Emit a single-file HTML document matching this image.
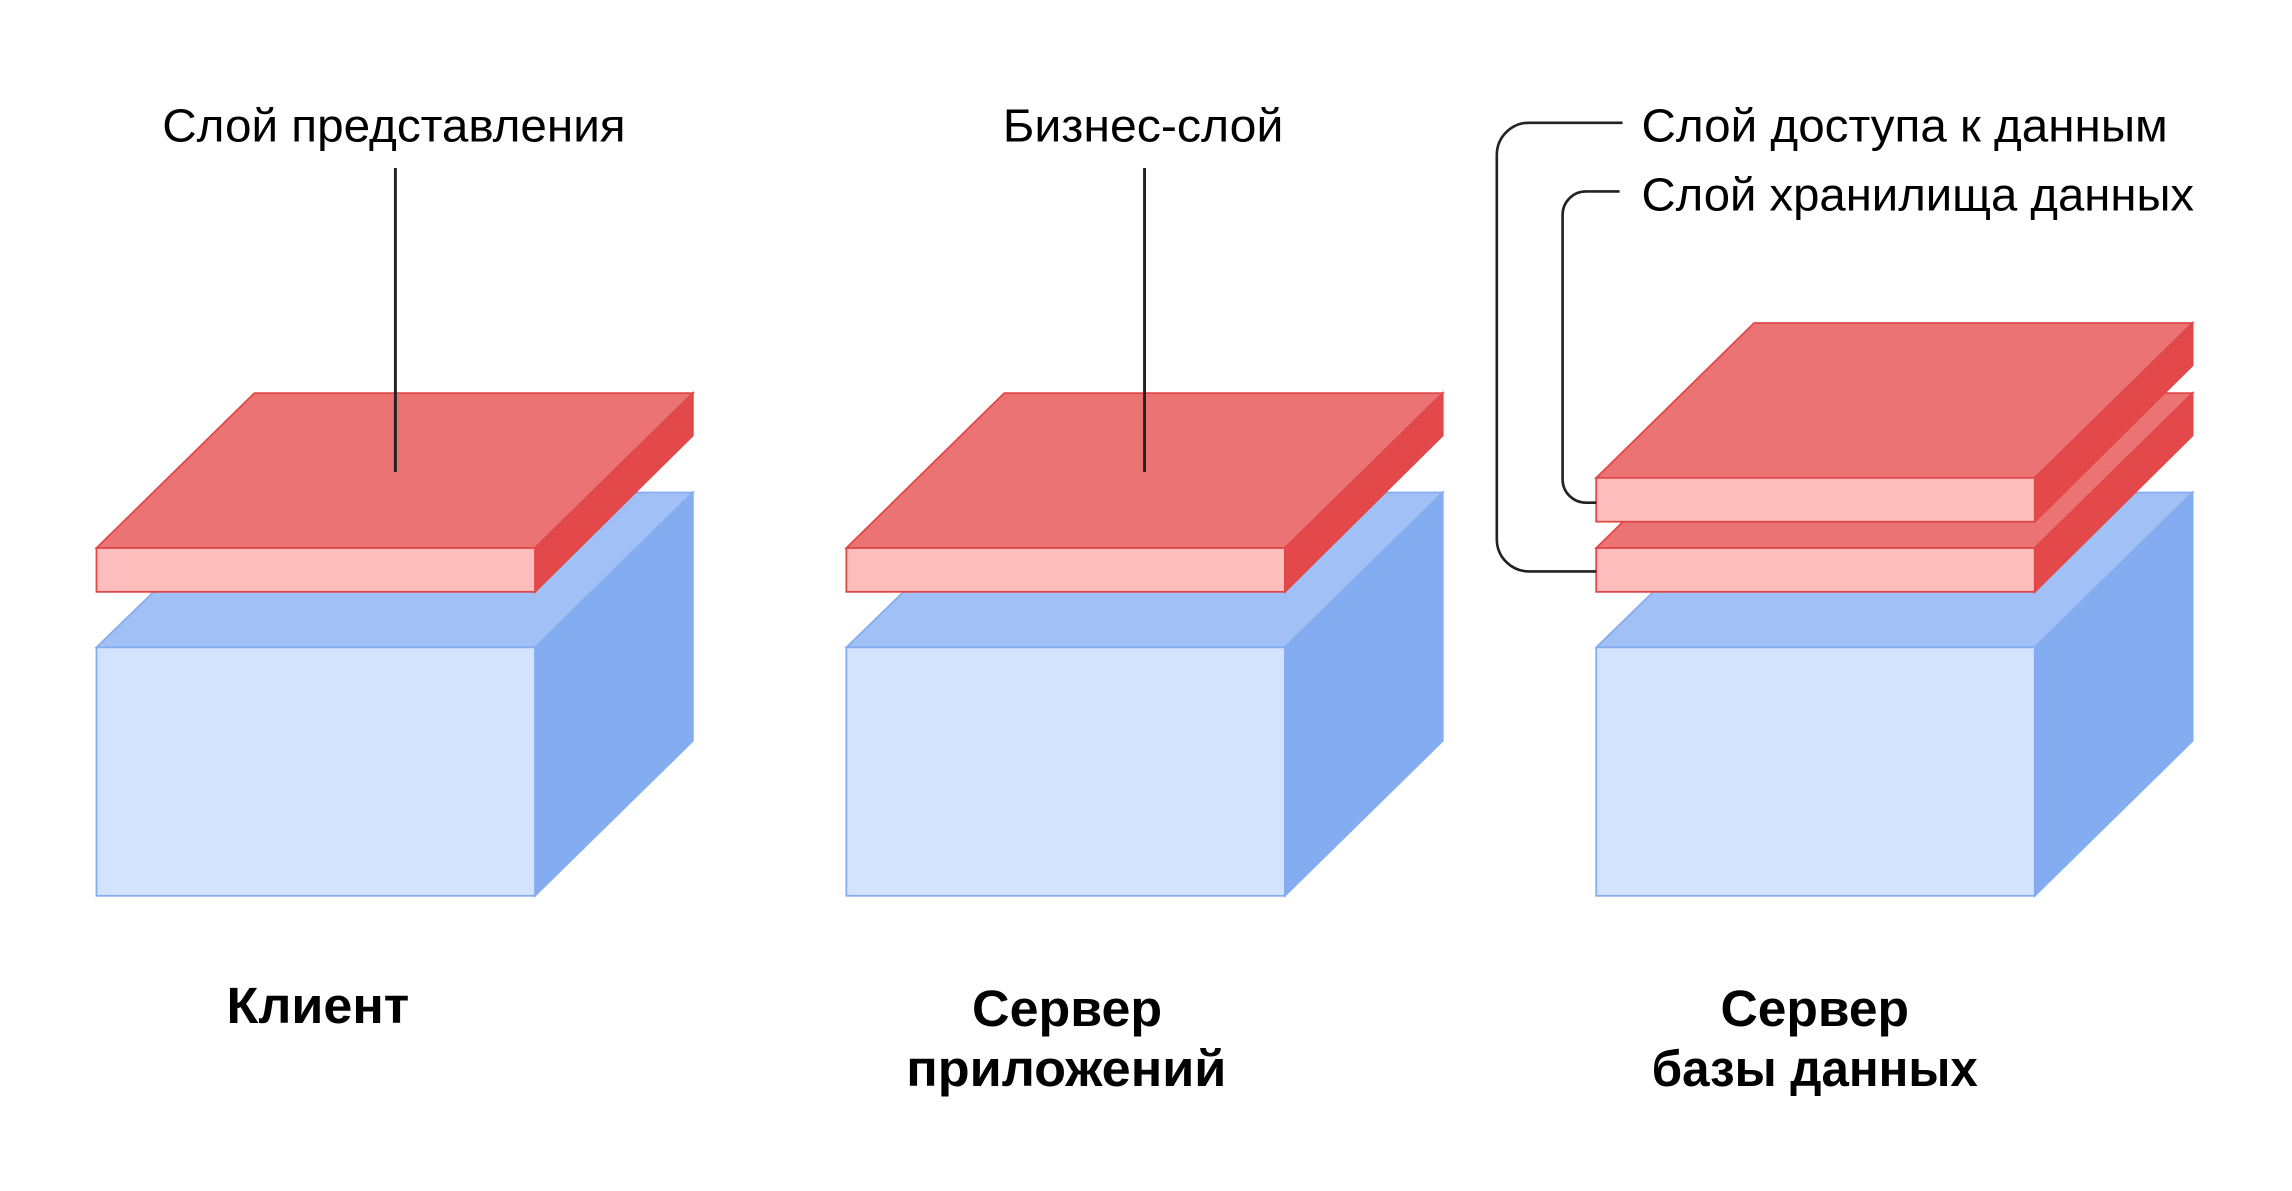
<!DOCTYPE html>
<html><head><meta charset="utf-8"><style>
html,body{margin:0;padding:0;background:#fff;}
svg{display:block;}
text{font-family:"Liberation Sans","Noto Sans CJK SC",sans-serif;fill:#000;}
.b{font-weight:bold;font-size:35px;}
.n{font-size:32px;}
</style></head><body>
<svg width="2292" height="1191" viewBox="0 0 1568 815" preserveAspectRatio="none" xmlns="http://www.w3.org/2000/svg">
<defs>
<g id="box">
  <polygon points="66,443 175,337 474,337 366,443" fill="#A1C0F5" stroke="#84ACF0" stroke-width="1.2"/>
  <polygon points="366,443 474,337 474,507 366,613" fill="#84ACF0" stroke="#84ACF0" stroke-width="1.2"/>
  <rect x="66" y="443" width="300" height="170" fill="#D3E3FE" stroke="#84ACF0" stroke-width="1.2"/>
</g>
<g id="slab">
  <polygon points="66,375 174,269 474,269 366,375" fill="#EB7373" stroke="#E04848" stroke-width="1.2"/>
  <polygon points="366,375 474,269 474,298 366,405" fill="#E3494A" stroke="#E04848" stroke-width="1.2"/>
  <rect x="66" y="375" width="300" height="30" fill="#FDBDBD" stroke="#E04848" stroke-width="1.2"/>
</g>
</defs>

<use href="#box"/>
<use href="#slab"/>
<use href="#box" x="513"/>
<use href="#slab" x="513"/>
<use href="#box" x="1026"/>
<use href="#slab" x="1026"/>
<use href="#slab" x="1026" y="-48"/>

<line x1="270.5" y1="115" x2="270.5" y2="323" stroke="#222" stroke-width="2"/>
<line x1="783" y1="115" x2="783" y2="323" stroke="#222" stroke-width="2"/>

<path d="M1110,84 H1046 A22,22 0 0 0 1024,106 V369 A22,22 0 0 0 1046,391 H1092" fill="none" stroke="#222" stroke-width="1.8"/>
<path d="M1108,131 H1085 A16,16 0 0 0 1069,147 V328 A16,16 0 0 0 1085,344 H1092" fill="none" stroke="#222" stroke-width="1.8"/>

<text class="n" x="111" y="97" textLength="317" lengthAdjust="spacingAndGlyphs">Слой представления</text>
<text class="n" x="686" y="97" textLength="192" lengthAdjust="spacingAndGlyphs">Бизнес-слой</text>
<text class="n" x="1123" y="97" textLength="360" lengthAdjust="spacingAndGlyphs">Слой доступа к данным</text>
<text class="n" x="1123" y="144" textLength="378" lengthAdjust="spacingAndGlyphs">Слой хранилища данных</text>

<text class="b" x="155" y="700" textLength="125" lengthAdjust="spacingAndGlyphs">Клиент</text>
<text class="b" x="665" y="702" textLength="130" lengthAdjust="spacingAndGlyphs">Сервер</text>
<text class="b" x="620" y="743" textLength="219" lengthAdjust="spacingAndGlyphs">приложений</text>
<text class="b" x="1177" y="702" textLength="129" lengthAdjust="spacingAndGlyphs">Сервер</text>
<text class="b" x="1130" y="743" textLength="223" lengthAdjust="spacingAndGlyphs">базы данных</text>
</svg>
</body></html>
